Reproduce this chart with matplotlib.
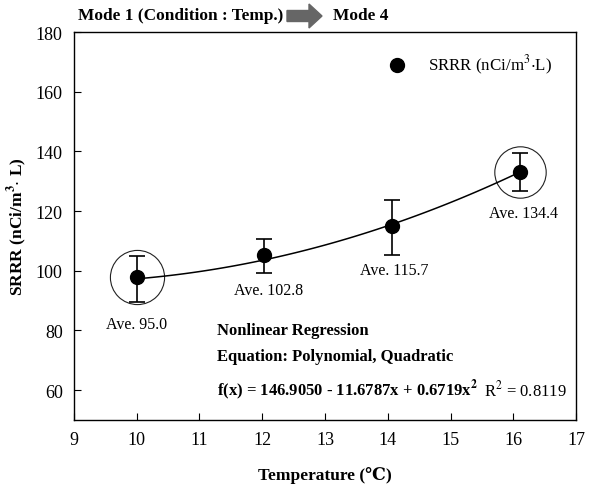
import numpy as np
import matplotlib
matplotlib.use('Agg')
import matplotlib.pyplot as plt
from matplotlib.patches import FancyArrow

# data
temps = [10.0, 12.03, 14.07, 16.1]
srrr = [97.8, 105.2, 115.0, 133.2]
err_low = [8.1, 5.9, 9.6, 6.4]
err_high = [7.3, 5.5, 8.8, 6.1]
ave_labels = ['Ave. 95.0', 'Ave. 102.8', 'Ave. 115.7', 'Ave. 134.4']
label_x = [10.0, 12.1, 14.1, 16.16]
label_y = [82.3, 93.7, 100.3, 119.3]
circled = [0, 3]
circle_size = [39, 37]
coef = [146.9050, -11.6787, 0.6719]  # f(x) = a + b x + c x^2

plt.rcParams['font.family'] = ['Liberation Serif', 'DejaVu Serif', 'DejaVu Sans']
plt.rcParams['mathtext.fontset'] = 'stix'

fig = plt.figure(figsize=(5.91, 4.89), dpi=100)
ax = fig.add_axes([0.125, 0.139, 0.85, 0.7935])

# regression curve
xs = np.linspace(temps[0], temps[-1], 100)
ax.plot(xs, coef[0] + coef[1] * xs + coef[2] * xs ** 2, color='black', lw=1.1, zorder=2)

ax.errorbar(temps, srrr, yerr=[err_low, err_high], fmt='o', color='black',
            ms=10, elinewidth=1.2, capsize=6, capthick=1.2, zorder=3)

# circles around first/last point
for i, s in zip(circled, circle_size):
    ax.plot(temps[i], srrr[i], 'o', mfc='none', mec='#222222', ms=s, mew=0.8, zorder=1)

for tx, ty, s in zip(label_x, label_y, ave_labels):
    ax.text(tx, ty, s, ha='center', va='center', fontsize=11.5)

# legend-like entry
ax.plot(14.15, 169, 'o', color='black', ms=10)
ax.text(14.64, 169, r'SRRR (nCi/m$^3$$\cdot$L)', va='center', fontsize=12.2)

# regression text
ax.text(11.28, 80.0, 'Nonlinear Regression', fontsize=12, fontweight='bold', va='center')
ax.text(11.28, 71.6, 'Equation: Polynomial, Quadratic', fontsize=12, fontweight='bold', va='center')
ax.text(11.28, 60.3, r'f(x) = 146.9050 - 11.6787x + 0.6719x$^\mathbf{2}$',
        fontsize=12, fontweight='bold', va='center')
ax.text(15.53, 60.3, r'R$^2$ = 0.8119', fontsize=12, va='center')

ax.set_xlim(9, 17)
ax.set_ylim(50, 180)
ax.set_xticks(range(9, 18))
ax.set_yticks(range(60, 181, 20))
ax.tick_params(direction='in', labelsize=13, length=5, width=0.8, pad=8,
               top=False, right=False)
for sp in ax.spines.values():
    sp.set_linewidth(1.0)

ax.set_xlabel('Temperature (℃)', fontsize=12.5, fontweight='bold', labelpad=13)
ax.set_ylabel(r'SRRR (nCi/m$^\mathbf{3}$$\cdot$ L)', fontsize=12.5, fontweight='bold', labelpad=5)

# header: Mode 1 -> Mode 4
fig.text(78 / 591, 1 - 16 / 489, 'Mode 1 (Condition : Temp.)', fontsize=12.4,
         fontweight='bold', va='center')
fig.patches.append(FancyArrow(287 / 591, 1 - 17 / 489, 35 / 591, 0, width=11 / 489,
                              head_width=24 / 489, head_length=13 / 591,
                              length_includes_head=True, color='#666666',
                              transform=fig.transFigure, figure=fig))
fig.text(333 / 591, 1 - 16 / 489, 'Mode 4', fontsize=12.4, fontweight='bold', va='center')

fig.savefig('out.png', dpi=100)
